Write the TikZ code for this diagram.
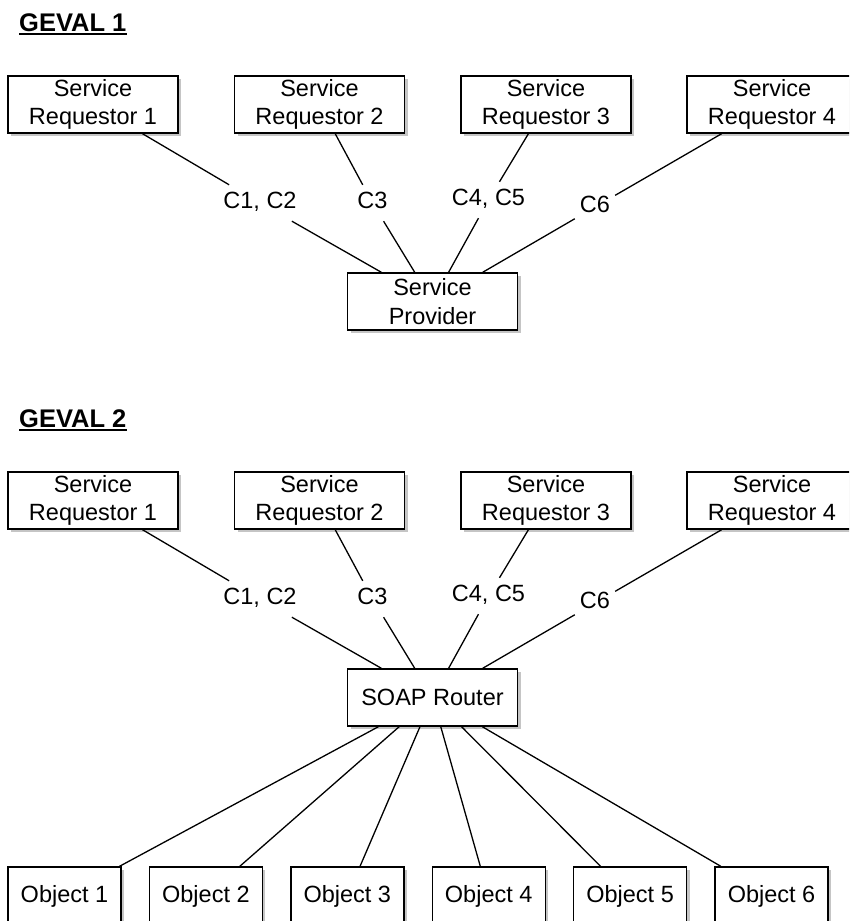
\documentclass[tikz,border=0pt]{standalone}
\usepackage{fontspec}
\setmainfont{Liberation Sans}
\usetikzlibrary{shadows}
\begin{document}
\begin{tikzpicture}[x=1pt,y=-1pt,
  box/.style={draw, line width=1.4pt, fill=white, minimum width=170pt, minimum height=57pt,
    inner sep=0pt, align=center, font=\fontsize{23.5}{28.5}\selectfont,
    drop shadow={shadow xshift=3pt, shadow yshift=-3pt, fill=black!45, opacity=0.5}},
  objbox/.style={box, minimum width=113pt, minimum height=58pt},
  lbl/.style={font=\fontsize{23.5}{28.5}\selectfont, inner xsep=5pt, inner ysep=3pt,
    text height=20pt, text depth=10pt, anchor=base},
  ttl/.style={font=\fontsize{25.5}{28}\selectfont\bfseries, inner sep=0pt, anchor=base west},
  conn/.style={line width=1.3pt},
  uline/.style={line width=1.9pt}]
\useasboundingbox (0,0) rectangle (849,921);
\clip (0,0) rectangle (849,921);

% ---------- GEVAL 1 ----------
\node[ttl] (t1) at (19,31.7) {GEVAL 1};
\draw[uline] ([yshift=-1.9pt]t1.base west) -- ([yshift=-1.9pt]t1.base east);

\node[box] (a1) at (93,104.5) {Service\\Requestor 1};
\node[box] (a2) at (319.5,104.5) {Service\\Requestor 2};
\node[box] (a3) at (546,104.5) {Service\\Requestor 3};
\node[box] (a4) at (772,104.5) {Service\\Requestor 4};

\node[lbl] (ca12) at (260,208) {C1, C2};
\node[lbl] (ca3) at (372.5,208) {C3};
\node[lbl] (ca45) at (488.5,205) {C4, C5};
\node[lbl] (ca6) at (595,212) {C6};

\node[box] (sp) at (432.5,301.5) {Service\\Provider};

\draw[conn] (a1) -- (ca12);
\draw[conn] (a2) -- (ca3);
\draw[conn] (a3) -- (ca45);
\draw[conn] (a4) -- (ca6);
\draw[conn] (ca12) -- (sp);
\draw[conn] (ca3) -- (sp);
\draw[conn] (ca45) -- (sp);
\draw[conn] (ca6) -- (sp);

% ---------- GEVAL 2 ----------
\node[ttl] (t2) at (19,427.7) {GEVAL 2};
\draw[uline] ([yshift=-1.9pt]t2.base west) -- ([yshift=-1.9pt]t2.base east);

\node[box] (b1) at (93,500.5) {Service\\Requestor 1};
\node[box] (b2) at (319.5,500.5) {Service\\Requestor 2};
\node[box] (b3) at (546,500.5) {Service\\Requestor 3};
\node[box] (b4) at (772,500.5) {Service\\Requestor 4};

\node[lbl] (cb12) at (260,604) {C1, C2};
\node[lbl] (cb3) at (372.5,604) {C3};
\node[lbl] (cb45) at (488.5,601) {C4, C5};
\node[lbl] (cb6) at (595,608) {C6};

\node[box] (sr) at (432.5,697.5) {SOAP Router};

\draw[conn] (b1) -- (cb12);
\draw[conn] (b2) -- (cb3);
\draw[conn] (b3) -- (cb45);
\draw[conn] (b4) -- (cb6);
\draw[conn] (cb12) -- (sr);
\draw[conn] (cb3) -- (sr);
\draw[conn] (cb45) -- (sr);
\draw[conn] (cb6) -- (sr);

\node[objbox] (o1) at (64.5,896) {Object 1};
\node[objbox] (o2) at (205.9,896) {Object 2};
\node[objbox] (o3) at (347.3,896) {Object 3};
\node[objbox] (o4) at (488.7,896) {Object 4};
\node[objbox] (o5) at (630.1,896) {Object 5};
\node[objbox] (o6) at (771.5,896) {Object 6};

\foreach \o in {o1,o2,o3,o4,o5,o6}
  \draw[conn] (sr) -- (\o);
\end{tikzpicture}
\end{document}
